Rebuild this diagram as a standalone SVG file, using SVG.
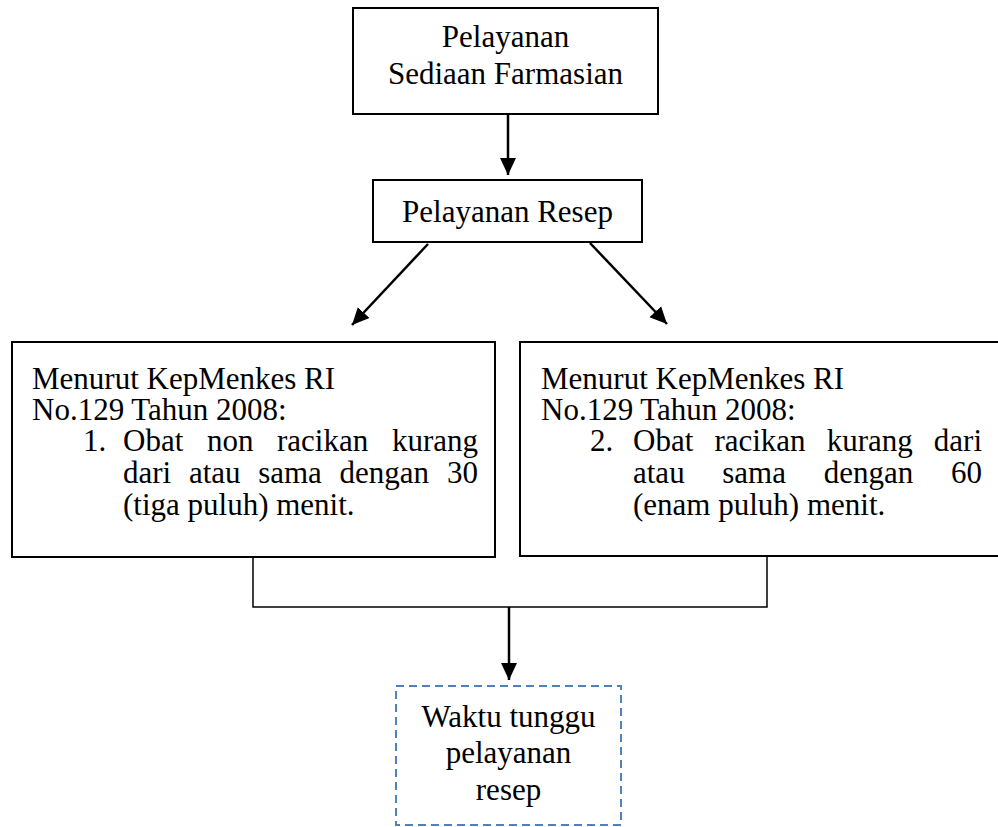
<svg xmlns="http://www.w3.org/2000/svg" width="998" height="827" viewBox="0 0 998 827" font-family="'Liberation Serif', 'Times New Roman', Times, serif" font-size="31">
<defs>
<style>
.c{text-anchor:middle}
.e{text-anchor:end}
.box{fill:#fff;stroke:#000;stroke-width:2}
.ln{fill:none;stroke:#000;stroke-width:2.5}
.br{fill:none;stroke:#000;stroke-width:1.5}
</style>
<marker id="ah" markerUnits="userSpaceOnUse" markerWidth="18" markerHeight="18" viewBox="0 0 18 18" refX="17" refY="9" orient="auto">
<path d="M0,1 L17,9 L0,17 Z" fill="#000"/>
</marker>
</defs>
<g id="connectors">
<line class="ln" x1="508" y1="114" x2="508" y2="175" marker-end="url(#ah)"/>
<line class="ln" x1="428" y1="244" x2="352" y2="325" marker-end="url(#ah)"/>
<line class="ln" x1="590" y1="243" x2="667" y2="324" marker-end="url(#ah)"/>
<polyline class="br" points="253,557 253,607 767,607 767,556"/>
<line class="ln" x1="509" y1="607" x2="509" y2="680" marker-end="url(#ah)"/>
</g>
<g id="n1">
<rect class="box" x="353" y="8" width="305" height="106"/>
<text class="c" x="505.5" y="47">Pelayanan</text>
<text class="c" x="505.5" y="84">Sediaan Farmasian</text>
</g>
<g id="n2">
<rect class="box" x="373" y="180" width="269" height="62"/>
<text class="c" x="507.5" y="222">Pelayanan Resep</text>
</g>
<g id="n3">
<rect class="box" x="12" y="342" width="483" height="215" stroke-width="1.5"/>
<text x="32" y="389">Menurut KepMenkes RI</text>
<text x="32" y="420">No.129 Tahun 2008:</text>
<text x="83" y="451">1.</text>
<text x="123" y="451">Obat</text>
<text x="206.9" y="451">non</text>
<text x="277" y="451">racikan</text>
<text class="e" x="478" y="451">kurang</text>
<text x="123" y="483">dari</text>
<text x="188.9" y="483">atau</text>
<text x="258.2" y="483">sama</text>
<text x="339.6" y="483">dengan</text>
<text class="e" x="478" y="483">30</text>
<text x="123" y="515">(tiga puluh) menit.</text>
</g>
<g id="n4">
<rect class="box" x="520" y="342" width="490" height="214" stroke-width="3"/>
<text x="541" y="389">Menurut KepMenkes RI</text>
<text x="541" y="420">No.129 Tahun 2008:</text>
<text x="590" y="451">2.</text>
<text x="633" y="451">Obat</text>
<text x="714.4" y="451">racikan</text>
<text x="826.7" y="451">kurang</text>
<text class="e" x="982" y="451">dari</text>
<text x="633" y="483">atau</text>
<text x="722.3" y="483">sama</text>
<text x="823.7" y="483">dengan</text>
<text class="e" x="982" y="483">60</text>
<text x="633" y="515">(enam puluh) menit.</text>
</g>
<g id="n5">
<rect x="396" y="686" width="225" height="139" fill="#fff" stroke="#4f81bd" stroke-width="2" stroke-dasharray="8,5"/>
<text class="c" x="508.5" y="727">Waktu tunggu</text>
<text class="c" x="508.5" y="763">pelayanan</text>
<text class="c" x="508.5" y="800">resep</text>
</g>
</svg>
